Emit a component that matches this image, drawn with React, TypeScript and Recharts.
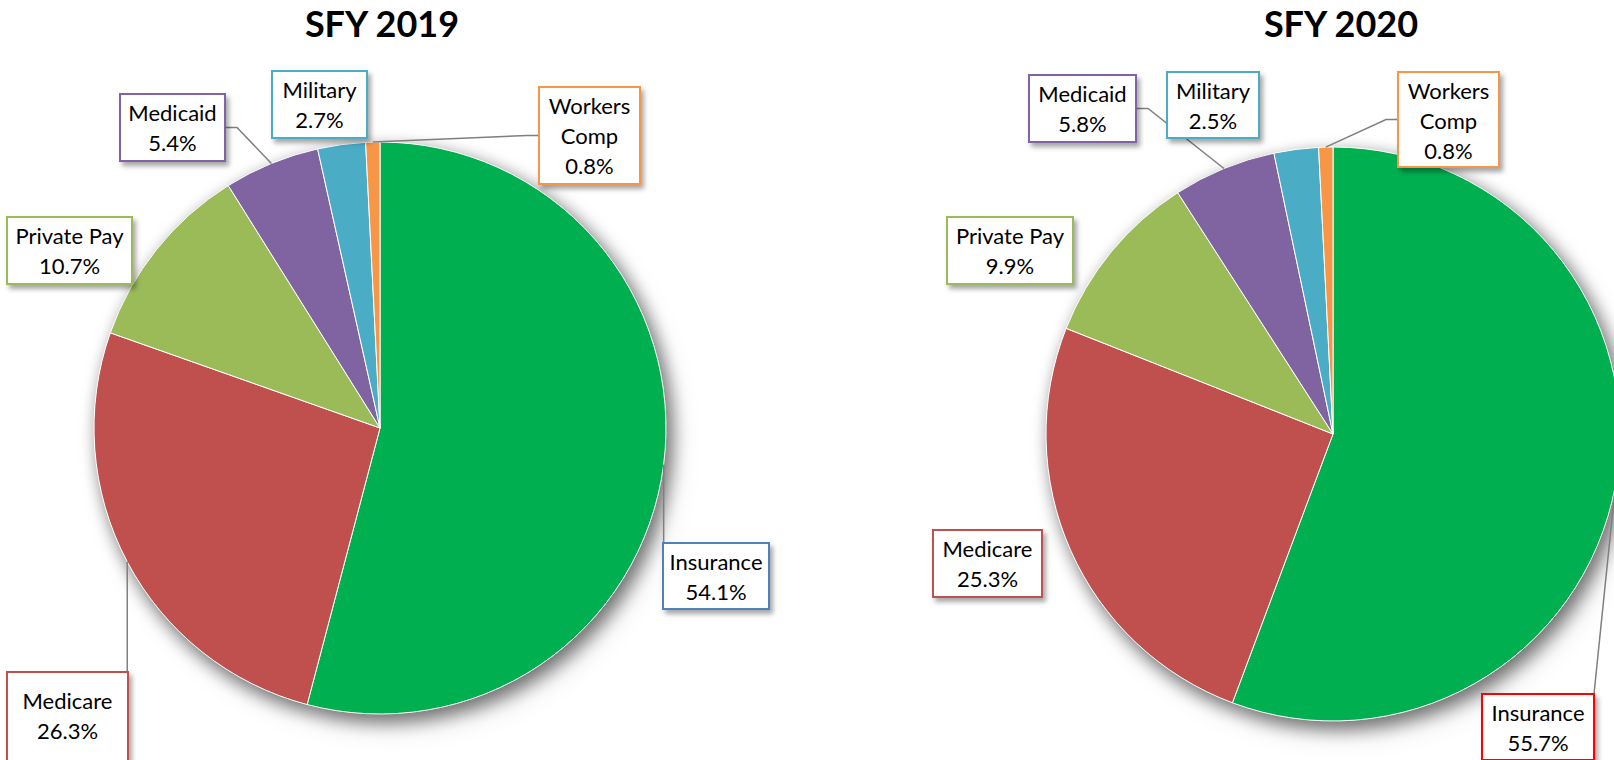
import { PieChart, Pie, Cell } from 'recharts';

// payer mix, share of total (%)
const categories = ['Insurance', 'Medicare', 'Private Pay', 'Medicaid', 'Military', 'Workers Comp'];
const share2019 = [54.1, 26.3, 10.7, 5.4, 2.7, 0.8];
const share2020 = [55.7, 25.3, 9.9, 5.8, 2.5, 0.8];
const titles = ['SFY 2019', 'SFY 2020'];

const sliceColors = ['#00B050', '#C0504D', '#9BBB59', '#8064A2', '#4BACC6', '#F79646'];
const FONT = 'Lato, Carlito, Calibri, "Liberation Sans", sans-serif';

const data2019 = categories.map((name, i) => ({ name, value: share2019[i] }));
const data2020 = categories.map((name, i) => ({ name, value: share2020[i] }));

// label boxes, placed relative to the pie centre (Excel moved them by hand)
type Box = {
  dx: number; dy: number; w: number; h: number; border: string;
  leader?: boolean; wrap?: boolean; textTop?: number;
};

const boxes2019: Box[] = [
  { dx: 283, dy: 115, w: 106, h: 66, border: '#4F81BD', leader: true },
  { dx: -373, dy: 244, w: 121, h: 100, border: '#C0504D', leader: true, textTop: 28 },
  { dx: -373, dy: -211, w: 125, h: 67, border: '#9BBB59' },
  { dx: -260, dy: -334, w: 105, h: 67, border: '#8064A2', leader: true },
  { dx: -108, dy: -357, w: 95, h: 67, border: '#4BACC6' },
  { dx: 159, dy: -341, w: 101, h: 97, border: '#F79646', leader: true, wrap: true },
];

const boxes2020: Box[] = [
  { dx: 149, dy: 260, w: 112, h: 66, border: '#FF0000', leader: true },
  { dx: -400, dy: 96, w: 109, h: 67, border: '#C0504D' },
  { dx: -386, dy: -217, w: 126, h: 67, border: '#9BBB59' },
  { dx: -304, dy: -359, w: 107, h: 67, border: '#8064A2', leader: true },
  { dx: -166, dy: -362, w: 92, h: 66, border: '#4BACC6' },
  { dx: 65, dy: -362, w: 101, h: 95, border: '#F79646', leader: true, wrap: true },
];

const RAD = Math.PI / 180;

function makeLabel(boxes: Box[]) {
  return (p: any) => {
    const b = boxes[p.index];
    const x = p.cx + b.dx;
    const y = p.cy + b.dy;
    const name: string = p.payload?.name ?? p.name;
    const pct = `${Number(p.value).toFixed(1)}%`;
    const lines = b.wrap ? [...name.split(' '), pct] : [name, pct];

    // leader line: point on the slice edge -> box side (with a short stub) or box top
    let pts = '';
    if (b.leader) {
      const ax = p.cx + p.outerRadius * Math.cos(-p.midAngle * RAD);
      const ay = p.cy + p.outerRadius * Math.sin(-p.midAngle * RAD);
      const sideways = ay > y - 35 && ay < y + b.h + 35;
      if (sideways && ax > x + b.w) {
        const my = y + b.h / 2;
        pts = `${x + b.w},${my} ${x + b.w + 12},${my} ${ax},${ay}`;
      } else if (sideways && ax < x) {
        const my = y + b.h / 2;
        pts = `${x},${my} ${x - 12},${my} ${ax},${ay}`;
      } else {
        const sx = Math.min(Math.max(ax, x), x + b.w);
        const sy = ay < y ? y : y + b.h;
        pts = `${sx},${sy} ${ax},${ay}`;
      }
    }
    const top = b.textTop ?? 18;

    return (
      <g key={`lbl-${p.index}`}>
        {pts && <polyline points={pts} fill="none" stroke="#7F7F7F" strokeWidth={1.5} />}
        <rect x={x} y={y} width={b.w} height={b.h} fill="#fff" stroke={b.border}
          strokeWidth={2} filter="url(#boxShadow)" />
        {lines.map((t, i) => (
          <text key={i} x={x + b.w / 2} y={y + top + i * 30} textAnchor="middle"
            dominantBaseline="central" fontFamily={FONT} fontSize={22} fill="#000">
            {t}
          </text>
        ))}
      </g>
    );
  };
}

export default function App() {
  return (
    <div style={{ position: 'absolute', left: 0, top: 0, width: 1614, height: 760, background: '#fff', overflow: 'hidden' }}>
      <style>{'.pie-backdrop { filter: drop-shadow(5px 7px 9px rgba(0,0,0,0.35)); }'}</style>
      <PieChart width={1614} height={760} margin={{ top: 0, right: 0, bottom: 0, left: 0 }}>
        {/* white copies behind the pies, only there to cast the soft shadow */}
        <Pie data={data2019} dataKey="value" cx={380} cy={428} outerRadius={286} className="pie-backdrop"
          startAngle={90} endAngle={-270} fill="#fff" stroke="none" isAnimationActive={false} />
        <Pie data={data2020} dataKey="value" cx={1333} cy={434} outerRadius={287} className="pie-backdrop"
          startAngle={90} endAngle={-270} fill="#fff" stroke="none" isAnimationActive={false} />

        <Pie data={data2019} dataKey="value" nameKey="name" cx={380} cy={428} outerRadius={286}
          startAngle={90} endAngle={-270} stroke="#fff" strokeWidth={1}
          label={makeLabel(boxes2019)} labelLine={false} isAnimationActive={false}>
          {data2019.map((d, i) => <Cell key={d.name} fill={sliceColors[i]} />)}
        </Pie>
        <Pie data={data2020} dataKey="value" nameKey="name" cx={1333} cy={434} outerRadius={287}
          startAngle={90} endAngle={-270} stroke="#fff" strokeWidth={1}
          label={makeLabel(boxes2020)} labelLine={false} isAnimationActive={false}>
          {data2020.map((d, i) => <Cell key={d.name} fill={sliceColors[i]} />)}
        </Pie>
      </PieChart>
      <svg width={1614} height={760} style={{ position: 'absolute', left: 0, top: 0, pointerEvents: 'none' }}>
        <defs>
          <filter id="boxShadow" x="-20%" y="-20%" width="150%" height="150%">
            <feDropShadow dx={3} dy={4} stdDeviation={2.5} floodColor="#000" floodOpacity={0.35} />
          </filter>
        </defs>
        <text x={382} y={37} textAnchor="middle" fontFamily={FONT} fontWeight={700} fontSize={36} fill="#000">
          {titles[0]}
        </text>
        <text x={1341} y={37} textAnchor="middle" fontFamily={FONT} fontWeight={700} fontSize={36} fill="#000">
          {titles[1]}
        </text>
      </svg>
    </div>
  );
}
